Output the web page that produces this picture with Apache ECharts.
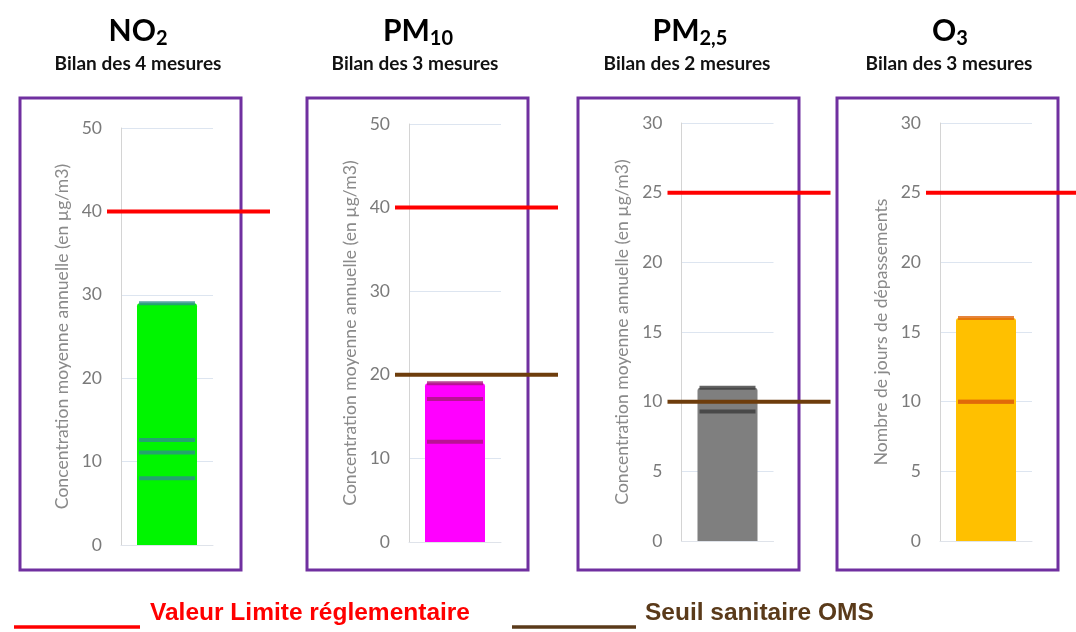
<!DOCTYPE html>
<html>
<head>
<meta charset="utf-8">
<script src="https://cdn.jsdelivr.net/npm/echarts@6/dist/echarts.min.js"></script>
<style>
html,body{margin:0;padding:0;background:#fff;}
#chart{width:1076px;height:632px;}
</style>
</head>
<body>
<div id="chart"></div>
<script>
// ---- data ----
const titleMain = ['NO', 'PM', 'PM', 'O'];
const titleSub = ['2', '10', '2,5', '3'];
const subtitles = ['Bilan des 4 mesures', 'Bilan des 3 mesures', 'Bilan des 2 mesures', 'Bilan des 3 mesures'];
const axisNames = [
  'Concentration moyenne annuelle (en µg/m3)',
  'Concentration moyenne annuelle (en µg/m3)',
  'Concentration moyenne annuelle (en µg/m3)',
  'Nombre de jours de dépassements'
];
const axisMax = [50, 50, 30, 30];
const axisInterval = [10, 10, 5, 5];
const no2Measures = [29, 12.6, 11.1, 8.0];
const pm10Measures = [19, 17.1, 12.0];
const pm25Measures = [11, 9.3];
const o3Measures = [16, 10, 10];
const limitValues = [40, 40, 25, 25];
const omsValues = [null, 20, 10, null];
const legendLabels = ['Valeur Limite réglementaire', 'Seuil sanitaire OMS'];

// ---- styles / layout ----
const measures = [no2Measures, pm10Measures, pm25Measures, o3Measures];
const barColors = ['#00f500', '#ff00ff', '#7f7f7f', '#ffc000'];
const markColors = ['#2d8f8a', '#a8157c', '#3c3c3c', '#e0650a'];
const RED = '#ff0000';
const BROWN = '#6e3d0c';
const boxLeft = [20, 307, 578, 837];
const boxW = 221;
const boxTop = 98, boxBottom = 570;
const axisX = [121, 409, 681.5, 940];
const gridTop = [128, 124, 123, 123];
const gridBottomY = [545, 542, 541, 541];
const titleX = [138, 418, 690, 950];
const subX = [138, 415, 687, 949];
const FONT = 'Lato';

const grid = [], xAxis = [], yAxis = [], series = [], graphic = [];

for (let i = 0; i < 4; i++) {
  const h = gridBottomY[i] - gridTop[i];
  // main grid
  grid.push({left: axisX[i], top: gridTop[i], width: 92, height: h});
  xAxis.push({
    type: 'category', gridIndex: 2 * i, data: [''],
    axisLine: {show: true, lineStyle: {color: '#dfe3ea', width: 1}},
    axisTick: {show: false}, axisLabel: {show: false}
  });
  yAxis.push({
    type: 'value', gridIndex: 2 * i, min: 0, max: axisMax[i], interval: axisInterval[i],
    name: axisNames[i], nameLocation: 'middle', nameGap: 50, nameRotate: 90,
    nameTextStyle: {color: '#8a8a8a', fontSize: 17.6, fontFamily: FONT},
    axisLine: {show: true, lineStyle: {color: '#d4d4d4', width: 1}},
    axisTick: {show: false},
    axisLabel: {color: '#7a7a7a', fontSize: 17.5, fontFamily: FONT, margin: 19},
    splitLine: {show: true, lineStyle: {color: '#dde5f0', width: 1}}
  });
  // overlay grid for threshold lines
  grid.push({left: axisX[i] - 14, top: gridTop[i], width: 163, height: h});
  xAxis.push({type: 'category', gridIndex: 2 * i + 1, data: ['a', 'b'], boundaryGap: false, show: false});
  yAxis.push({type: 'value', gridIndex: 2 * i + 1, min: 0, max: axisMax[i], show: false});

  series.push({
    type: 'bar', xAxisIndex: 2 * i, yAxisIndex: 2 * i, barWidth: 60, z: 2, silent: true,
    data: [Math.max(...measures[i])],
    itemStyle: {color: barColors[i], borderRadius: [3, 3, 0, 0]}
  });
  series.push({
    type: 'scatter', xAxisIndex: 2 * i, yAxisIndex: 2 * i, z: 3, silent: true,
    symbol: 'rect', symbolSize: [56, 4],
    data: measures[i].map(v => [0, v]),
    itemStyle: {color: markColors[i]}
  });
  series.push({
    type: 'line', xAxisIndex: 2 * i + 1, yAxisIndex: 2 * i + 1, z: 10, silent: true,
    symbol: 'none', data: [limitValues[i], limitValues[i]],
    lineStyle: {color: RED, width: 4}
  });
  if (omsValues[i] != null) {
    series.push({
      type: 'line', xAxisIndex: 2 * i + 1, yAxisIndex: 2 * i + 1, z: 10, silent: true,
      symbol: 'none', data: [omsValues[i], omsValues[i]],
      lineStyle: {color: BROWN, width: 4}
    });
  }

  // frame
  graphic.push({
    type: 'rect', z: 1, silent: true,
    shape: {x: boxLeft[i], y: boxTop, width: boxW, height: boxBottom - boxTop},
    style: {fill: 'none', stroke: '#7030a0', lineWidth: 3}
  });
  // titles
  graphic.push({
    type: 'text', z: 5, x: titleX[i], y: 31, silent: true,
    style: {
      text: '{m|' + titleMain[i] + '}{s|' + titleSub[i] + '}',
      textAlign: 'center', textVerticalAlign: 'middle',
      rich: {
        m: {fontSize: 30, fontWeight: 'bold', fontFamily: FONT, color: '#111', lineHeight: 36},
        s: {fontSize: 20, fontWeight: 'bold', fontFamily: FONT, color: '#111', lineHeight: 26, verticalAlign: 'bottom'}
      }
    }
  });
  graphic.push({
    type: 'text', z: 5, x: subX[i], y: 64, silent: true,
    style: {
      text: subtitles[i], textAlign: 'center', textVerticalAlign: 'middle',
      fontSize: 19, fontWeight: 'bold', fontFamily: FONT, fill: '#111'
    }
  });
}

// bottom legend
graphic.push({type: 'line', silent: true, shape: {x1: 14, y1: 627, x2: 140, y2: 627}, style: {stroke: RED, lineWidth: 3.5}});
graphic.push({type: 'text', silent: true, x: 150, y: 613, style: {text: legendLabels[0], textVerticalAlign: 'middle', fontSize: 24.5, fontWeight: 'bold', fontFamily: 'Liberation Sans', fill: RED}});
graphic.push({type: 'line', silent: true, shape: {x1: 512, y1: 627, x2: 636, y2: 627}, style: {stroke: '#5a3a1a', lineWidth: 3.5}});
graphic.push({type: 'text', silent: true, x: 645, y: 613, style: {text: legendLabels[1], textVerticalAlign: 'middle', fontSize: 24.5, fontWeight: 'bold', fontFamily: 'Liberation Sans', fill: '#5a3a1a'}});

const chart = echarts.init(document.getElementById('chart'), null, {renderer: 'canvas'});
chart.setOption({
  animation: false,
  backgroundColor: '#ffffff',
  grid, xAxis, yAxis, series, graphic
});
</script>
</body>
</html>
